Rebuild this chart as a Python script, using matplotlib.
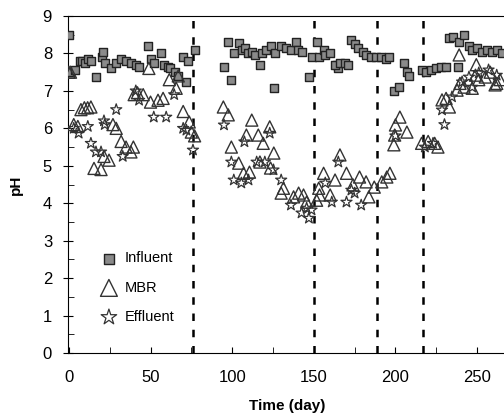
import matplotlib
matplotlib.use('Agg')
import matplotlib.pyplot as plt
from matplotlib.ticker import MultipleLocator

plt.rcParams['font.family'] = ['Liberation Sans', 'DejaVu Sans']

# Influent pH
inf_day = [0, 1, 4, 7, 8, 10, 12, 13.5, 16.5, 20, 21, 22, 26, 29, 32, 35, 38, 41, 43,
           48.5, 50, 52, 56.5, 58, 61, 62, 65, 67, 70, 72, 73, 77,
           95, 97.7, 99.5, 101, 104, 106, 108, 110, 112, 114, 117, 118, 121, 124, 125.5, 126,
           130, 133, 136, 139, 140.5, 143, 147, 149, 151.7, 153, 156, 157, 160, 164, 165,
           163, 166, 169, 171, 173, 175, 177, 180, 182, 185, 188, 191, 194, 196,
           199, 202, 205, 207, 208,
           216, 219, 222, 225, 228, 231, 233, 235, 238, 239, 242, 245, 247, 250, 253, 256, 259, 262, 265]
inf_ph = [8.5, 7.5, 7.55, 7.8, 7.8, 7.75, 7.85, 7.8, 7.37, 7.9, 8.05, 7.75, 7.6, 7.75, 7.85, 7.8, 7.75, 7.7, 7.65,
          8.2, 7.85, 7.75, 8.0, 7.7, 7.65, 7.6, 7.5, 7.4, 7.9, 7.25, 7.8, 8.1,
          7.65, 8.3, 7.3, 8.0, 8.28, 8.1, 8.15, 8.0, 8.05, 7.95, 7.7, 8.0, 8.1, 8.2, 7.07, 8.0,
          8.2, 8.15, 8.1, 8.3, 8.1, 8.05, 7.37, 7.9, 8.3, 7.9, 8.1, 7.95, 8.0, 7.7, 7.6,
          7.7, 7.75, 7.75, 7.7, 8.35, 8.25, 8.15, 8.05, 7.95, 7.9, 7.9, 7.9, 7.85, 7.9,
          7.0, 7.1, 7.75, 7.5, 7.4,
          7.55, 7.5, 7.55, 7.6, 7.65, 7.65, 8.4, 8.45, 7.65, 8.3, 8.5, 8.2, 8.1, 8.15, 8.05, 8.1, 8.05, 8.1, 8.0]

# MBR pH
mbr_day = [0, 1, 3, 5.5, 7.4, 9.5, 11.5, 13.5, 15.4, 19.7, 21.5, 24.6, 27, 29, 32, 35, 38, 39.5,
           40, 42, 45.5, 49, 50, 54.6, 57.7, 61.5, 65.7, 67, 70, 73.7, 75, 77,
           94.6, 97.6, 99.5, 104, 107, 108.7, 110.6, 112, 116, 117, 119, 123, 123.5, 125.5,
           130, 131.4, 137.6, 140.7, 143.7, 145.6, 151.7, 153, 153.5, 156, 160, 163, 166,
           170, 174, 178, 182, 183.7, 187, 191.6, 194.7, 196.6,
           199, 199.5, 200, 202.7, 207,
           216, 220, 224, 226, 228.5, 231, 233, 237.7, 239, 239.5, 242, 247, 249, 249.5, 251, 255, 258, 261, 262, 264]
mbr_ph = [7.5, 7.5, 6.1, 6.05, 6.5, 6.55, 6.55, 6.57, 4.93, 4.9, 5.25, 5.15, 6.1, 6.0, 5.65, 5.5, 5.37, 5.5,
          6.9, 6.95, 6.9, 7.6, 6.7, 6.75, 6.8, 7.3, 7.07, 7.4, 6.45, 6.17, 5.9, 5.8,
          6.57, 6.36, 5.5, 5.07, 4.8, 5.82, 4.83, 6.22, 5.82, 5.1, 5.6, 6.04, 4.94, 5.34,
          4.27, 4.4, 4.17, 4.27, 4.22, 4.03, 4.08, 4.4, 4.22, 4.8, 4.22, 4.62, 5.29,
          4.8, 4.49, 4.7, 4.57, 4.17, 4.43, 4.57, 4.7, 4.8,
          5.56, 5.82, 6.09, 6.3, 5.9,
          5.6, 5.65, 5.6, 5.5, 6.76, 6.8, 6.57, 7.02, 7.96, 7.2, 7.1, 7.07, 7.42, 7.7, 7.3, 7.37, 7.5, 7.16, 7.2, 7.3]

# Effluent pH
eff_day = [3, 6, 11.6, 13.5, 16.6, 19.7, 21.5, 22, 29, 33, 41, 43, 52, 59.6, 64.5, 70, 72, 76,
           95, 99.5, 101, 105.6, 107.5, 110, 115, 120, 123, 125.3, 130, 136, 142.5, 145.6, 147, 148.6,
           157, 161, 165, 170, 173, 175, 179,
           200, 218, 223, 228.5, 230, 234.6, 240.8, 245, 247, 251, 257, 262]
eff_ph = [6.0, 5.87, 6.05, 5.6, 5.37, 5.37, 6.2, 6.1, 6.5, 5.25, 7.0, 6.75, 6.3, 6.3, 6.9, 6.0, 5.95, 5.42,
          6.09, 5.1, 4.62, 4.54, 5.64, 4.62, 5.1, 5.1, 5.87, 4.89, 4.62, 3.95, 3.74, 3.87, 3.6, 3.82,
          4.54, 4.03, 5.1, 4.03, 4.35, 4.27, 3.95,
          5.8, 5.5, 5.6, 6.49, 6.1, 6.84, 7.24, 7.37, 7.1, 7.48, 7.56, 7.42]

phase_days = [76, 150, 188.6, 217]

fig = plt.figure(figsize=(5.04, 4.2), dpi=100)
ax = fig.add_axes([0.135, 0.1595, 0.87, 0.8024])

ax.scatter(inf_day, inf_ph, marker='s', s=30, facecolor='#8a8a8a', edgecolor='#222222',
           linewidths=1.0, label='Influent', zorder=3)
ax.scatter(mbr_day, mbr_ph, marker='^', s=75, facecolor='none', edgecolor='#333333',
           linewidths=1.0, label='MBR', zorder=3)
ax.scatter(eff_day, eff_ph, marker='*', s=70, facecolor='none', edgecolor='#333333',
           linewidths=0.9, label='Effluent', zorder=3)

for d in phase_days:
    ax.axvline(d, color='k', linestyle=(0, (3, 3.5)), linewidth=1.8, zorder=1)

ax.set_xlim(-0.5, 268)
ax.set_ylim(0, 9)
ax.xaxis.set_major_locator(MultipleLocator(50))
ax.xaxis.set_minor_locator(MultipleLocator(25))
ax.yaxis.set_major_locator(MultipleLocator(1))
ax.yaxis.set_minor_locator(MultipleLocator(0.5))
ax.tick_params(axis='x', which='both', direction='in', length=4, labelsize=12, pad=12)
ax.tick_params(axis='y', which='major', direction='inout', length=7, labelsize=12, pad=8)
ax.tick_params(axis='y', which='minor', direction='in', length=4)
ax.spines['right'].set_visible(False)

ax.set_xlabel('Time (day)', fontsize=11, fontweight='bold', labelpad=10)
ax.set_ylabel('pH', fontsize=11, fontweight='bold', labelpad=14)

ax.legend(loc='lower left', bbox_to_anchor=(0.04, 0.06), frameon=False, fontsize=10.5,
          handletextpad=0.1, labelspacing=1.05, markerscale=1.4, borderaxespad=0.2)

fig.savefig('out.png', dpi=100)
